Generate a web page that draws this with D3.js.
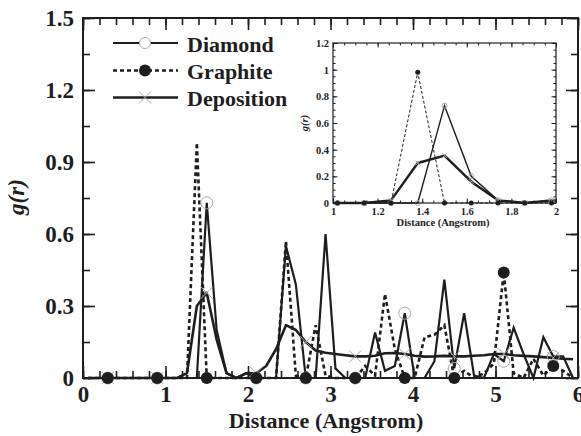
<!DOCTYPE html>
<html><head><meta charset="utf-8">
<script src="https://cdn.jsdelivr.net/npm/d3@7"></script>
<style>
html,body{margin:0;padding:0;background:#fff;}
svg{display:block;font-family:"Liberation Serif","Times New Roman",serif;}
</style></head>
<body><svg id="c" width="581" height="436"></svg>
<script>
const distance = [0.06,0.18,0.30,0.42,0.54,0.66,0.78,0.90,1.02,1.14,1.26,1.38,1.50,1.62,1.74,1.86,1.98,2.10,2.22,2.34,2.46,2.58,2.70,2.82,2.94,3.06,3.18,3.30,3.42,3.54,3.66,3.78,3.90,4.02,4.14,4.26,4.38,4.50,4.62,4.74,4.86,4.98,5.10,5.22,5.34,5.46,5.58,5.70,5.82,5.94];
const diamond = [0,0,0,0,0,0,0,0,0,0,0,0,0.73,0.20,0.02,0,0.02,0,0,0,0.55,0.39,0,0,0.60,0.04,0,0,0,0.19,0.03,0.05,0.27,0,0,0.07,0.41,0.04,0.27,0.01,0,0.10,0.07,0.21,0.10,0,0.17,0.09,0.09,0];
const graphite = [0,0,0,0,0,0,0,0,0,0,0,0.98,0,0,0,0,0,0,0,0,0.57,0.01,0,0.22,0.01,0,0,0,0.05,0.01,0.35,0.12,0,0,0.17,0.18,0.22,0,0.03,0,0.02,0.06,0.44,0.02,0,0.08,0.01,0.05,0.03,0];
const deposition = [0,0,0,0,0,0,0,0,0,0,0.02,0.30,0.355,0.16,0.02,0,0.02,0.02,0.05,0.12,0.22,0.20,0.15,0.115,0.105,0.10,0.095,0.09,0.09,0.093,0.103,0.104,0.10,0.093,0.089,0.09,0.092,0.09,0.09,0.093,0.095,0.10,0.10,0.095,0.092,0.09,0.087,0.084,0.08,0.078];
const seriesNames = ["Diamond","Graphite","Deposition"];
const xMajorTicks = [0,1,2,3,4,5,6];
const yMajorTicks = [0,0.3,0.6,0.9,1.2,1.5];
const insetXTicks = [1,1.2,1.4,1.6,1.8,2];
const insetYTicks = [0,0.2,0.4,0.6,0.8,1,1.2];
const markerEvery = [2,7,12,17,22,27,32,37,42,47];

const svg = d3.select("#c");
const ink = "#1e1e1e", grey = "#a8a8a8";
const pts = arr => distance.map((d,i)=>({x:d,y:arr[i],i}));

function drawPanel(g, x, y, opt){
  const [x0,x1] = x.range(), [y0,y1] = y.range();
  g.append("rect").attr("x",x0).attr("y",y1).attr("width",x1-x0).attr("height",y0-y1)
    .attr("fill","#fff");
  const clipId = "clip"+opt.id;
  g.append("clipPath").attr("id",clipId).append("rect")
    .attr("x",x0).attr("y",y1-10).attr("width",x1-x0).attr("height",y0-y1+20);
  const plot = g.append("g").attr("clip-path",`url(#${clipId})`);
  const line = d3.line().x(d=>x(d.x)).y(d=>y(d.y));
  plot.append("path").datum(pts(deposition)).attr("d",line).attr("fill","none")
    .attr("stroke",ink).attr("stroke-width",opt.thick).attr("stroke-linejoin","round");
  plot.append("path").datum(pts(diamond)).attr("d",line).attr("fill","none")
    .attr("stroke",ink).attr("stroke-width",opt.thin).attr("stroke-linejoin","miter");
  plot.append("path").datum(pts(graphite)).attr("d",line).attr("fill","none")
    .attr("stroke",ink).attr("stroke-width",opt.dashW).attr("stroke-dasharray",opt.dash);
  const sel = opt.markAll ? (()=>true) : (d=>markerEvery.includes(d.i));
  const inX = d => d.x>=x.domain()[0] && d.x<=x.domain()[1];
  plot.selectAll(null).data(pts(diamond).filter(sel).filter(inX)).join("circle")
    .attr("cx",d=>x(d.x)).attr("cy",d=>y(d.y)).attr("r",opt.rO)
    .attr("fill","none").attr("stroke",grey).attr("stroke-width",1);
  plot.selectAll(null).data(pts(deposition).filter(sel).filter(inX)).join("path")
    .attr("d",d=>{const cx=x(d.x),cy=y(d.y),s=opt.rX;return `M${cx-s},${cy-s}L${cx+s},${cy+s}M${cx-s},${cy+s}L${cx+s},${cy-s}`;})
    .attr("stroke",grey).attr("stroke-width",1);
  plot.selectAll(null).data(pts(graphite).filter(sel).filter(inX)).join("circle")
    .attr("cx",d=>x(d.x)).attr("cy",d=>y(d.y)).attr("r",opt.rF).attr("fill",ink);

  const mk = (axisFn, scale, ticks, size, fmt, pad) => axisFn(scale).tickValues(ticks)
      .tickSize(-size).tickSizeOuter(0).tickPadding(pad).tickFormat(fmt);
  const styleAx = (a, withText) => {
    a.select(".domain").remove();
    a.selectAll(".tick line").attr("stroke",ink).attr("stroke-width",opt.tickW);
    a.selectAll("text").attr("fill",ink).attr("font-size",opt.fs).attr("font-weight","bold")
      .attr("font-family","'Liberation Serif','Times New Roman',serif");
    if(!withText) a.selectAll("text").remove();
  };
  const xMinor = d3.range(Math.round((x.domain()[1]-x.domain()[0])/opt.xMinor)+1).map(k=>+(x.domain()[0]+k*opt.xMinor).toFixed(4));
  const yMinor = d3.range(Math.round((y.domain()[1]-y.domain()[0])/opt.yMinor)+1).map(k=>+(y.domain()[0]+k*opt.yMinor).toFixed(4));
  g.append("g").attr("transform",`translate(0,${y0})`).call(mk(d3.axisBottom,x,xMinor,opt.minL,"",0)).call(a=>styleAx(a,false));
  g.append("g").attr("transform",`translate(0,${y0})`).call(mk(d3.axisBottom,x,opt.xTicks,opt.majL,opt.xFmt,opt.xPad)).call(a=>styleAx(a,true));
  g.append("g").attr("transform",`translate(0,${y1})`).call(mk(d3.axisTop,x,xMinor,opt.minL,"",0)).call(a=>styleAx(a,false));
  g.append("g").attr("transform",`translate(0,${y1})`).call(mk(d3.axisTop,x,opt.xTicks,opt.majL,"",0)).call(a=>styleAx(a,false));
  g.append("g").attr("transform",`translate(${x0},0)`).call(mk(d3.axisLeft,y,yMinor,opt.minL,"",0)).call(a=>styleAx(a,false));
  g.append("g").attr("transform",`translate(${x0},0)`).call(mk(d3.axisLeft,y,opt.yTicks,opt.majL,opt.yFmt,opt.yPad)).call(a=>styleAx(a,true));
  g.append("g").attr("transform",`translate(${x1},0)`).call(mk(d3.axisRight,y,yMinor,opt.minL,"",0)).call(a=>styleAx(a,false));
  g.append("g").attr("transform",`translate(${x1},0)`).call(mk(d3.axisRight,y,opt.yTicks,opt.majL,"",0)).call(a=>styleAx(a,false));
  g.append("rect").attr("x",x0).attr("y",y1).attr("width",x1-x0).attr("height",y0-y1)
    .attr("fill","none").attr("stroke",ink).attr("stroke-width",opt.frameW);
}

const x = d3.scaleLinear().domain([0,6]).range([83,578]);
const y = d3.scaleLinear().domain([0,1.5]).range([378,18]);
const gMain = svg.append("g");
drawPanel(gMain, x, y, {id:"m", thick:2.6, thin:2.2, dashW:2.6, dash:"4,3", markAll:false,
  rO:6, rX:6, rF:6, tickW:1.6, frameW:2, fs:23, xTicks:xMajorTicks, yTicks:yMajorTicks,
  xFmt:d3.format("d"), yFmt:d=>d===0?"0":d3.format(".1f")(d), xPad:8, yPad:9,
  xMinor:0.2, yMinor:0.15, minL:7, majL:12});

svg.append("text").attr("x",326).attr("y",428).attr("text-anchor","middle")
  .attr("font-size",22).attr("font-weight","bold").attr("fill",ink).text("Distance (Angstrom)");
svg.append("text").attr("transform","translate(24,197) rotate(-90)").attr("text-anchor","middle")
  .attr("font-size",23).attr("font-weight","bold").attr("font-style","italic").attr("fill",ink).text("g(r)");

const legend = svg.append("g");
const legY = [43,70.5,97.5];
seriesNames.forEach((name,i)=>{
  const ly = legY[i];
  const ln = legend.append("line").attr("x1",113).attr("x2",178).attr("y1",ly).attr("y2",ly)
    .attr("stroke",ink).attr("stroke-width", i===1?2.6:(i===2?2.4:2));
  if(i===1) ln.attr("stroke-dasharray","4,3");
  if(i===0) legend.append("circle").attr("cx",145).attr("cy",ly).attr("r",5.5).attr("fill","#fff").attr("stroke",grey);
  if(i===1) legend.append("circle").attr("cx",145).attr("cy",ly).attr("r",6).attr("fill",ink);
  if(i===2) legend.append("path").attr("d",`M139,${ly-6}L151,${ly+6}M139,${ly+6}L151,${ly-6}`).attr("stroke",grey).attr("stroke-width",1);
  legend.append("text").attr("x",187).attr("y",ly+8.5).attr("font-size",22).attr("font-weight","bold")
    .attr("fill",ink).text(name);
});

const xi = d3.scaleLinear().domain([1,2]).range([333,556]);
const yi = d3.scaleLinear().domain([0,1.2]).range([203,43]);
const gIn = svg.append("g");
drawPanel(gIn, xi, yi, {id:"i", thick:2.4, thin:1.4, dashW:1, dash:"3,2", markAll:true,
  rO:2.5, rX:2.5, rF:2.5, tickW:1, frameW:1.2, fs:10.5, xTicks:insetXTicks, yTicks:insetYTicks,
  xFmt:d=>d3.format("~g")(d), yFmt:d=>d3.format("~g")(d), xPad:5, yPad:4,
  xMinor:0.05, yMinor:0.05, minL:2.5, majL:4.5});
svg.append("text").attr("x",443).attr("y",226).attr("text-anchor","middle")
  .attr("font-size",10.5).attr("font-weight","bold").attr("fill",ink).text("Distance (Angstrom)");
svg.append("text").attr("transform","translate(308,123) rotate(-90)").attr("text-anchor","middle")
  .attr("font-size",10.5).attr("font-weight","bold").attr("font-style","italic").attr("fill",ink).text("g(r)");
</script></body></html>
